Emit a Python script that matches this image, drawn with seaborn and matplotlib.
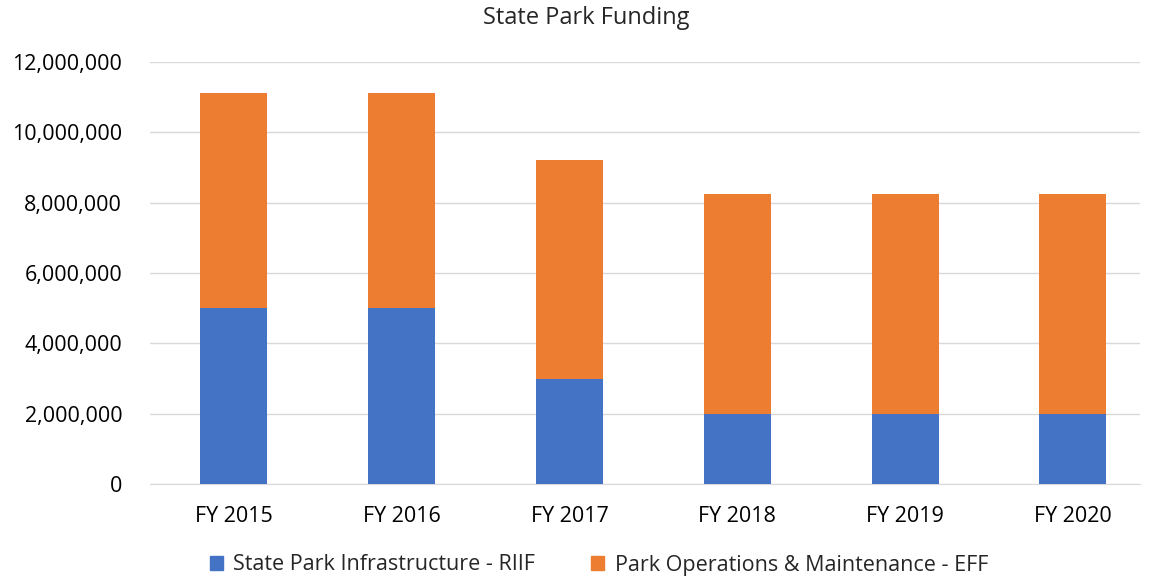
import numpy as np
import pandas as pd
import seaborn as sns
import matplotlib.pyplot as plt
from matplotlib.ticker import FuncFormatter
from matplotlib.patches import Patch

years = ["FY 2015", "FY 2016", "FY 2017", "FY 2018", "FY 2019", "FY 2020"]
infrastructure = [5000000, 5000000, 3000000, 2000000, 2000000, 2000000]
operations = [6120000, 6120000, 6210000, 6250000, 6250000, 6250000]

blue = "#4472C4"
orange = "#ED7D31"

df = pd.DataFrame({"Year": years, "RIIF": infrastructure, "EFF": operations})
df["Total"] = df["RIIF"] + df["EFF"]

sns.set_style("white")
plt.rcParams["font.family"] = ["Open Sans", "DejaVu Sans"]

fig = plt.figure(figsize=(11.5, 5.78), dpi=100)
ax = fig.add_axes([150 / 1150, 1 - 484 / 578, 990 / 1150, 422 / 578])

# stacked: total in orange first, blue base drawn over it
sns.barplot(data=df, x="Year", y="Total", color=orange, width=0.4, saturation=1,
            linewidth=0, ax=ax, zorder=3)
sns.barplot(data=df, x="Year", y="RIIF", color=blue, width=0.4, saturation=1,
            linewidth=0, ax=ax, zorder=3)

ax.set_ylim(0, 12000000)
ax.set_yticks(np.arange(0, 12000001, 2000000))
ax.set_xlim(-0.5, 5.4)
ax.yaxis.set_major_formatter(FuncFormatter(lambda v, p: f"{int(v):,}"))
ax.grid(axis="y", color="#D9D9D9", linewidth=1, zorder=0)
ax.set_axisbelow(True)
for s in ["top", "right", "left"]:
    ax.spines[s].set_visible(False)
ax.spines["bottom"].set_color("#D9D9D9")
ax.tick_params(axis="both", length=0, labelsize=15.5, colors="#000000")
ax.tick_params(axis="y", pad=20)
ax.tick_params(axis="x", pad=16)
ax.set_xlabel("")
ax.set_ylabel("")

fig.text(586 / 1150, 1 - 18 / 578, "State Park Funding", ha="center", va="center", fontsize=17)

handles = [Patch(color=blue, label="State Park Infrastructure - RIIF"),
           Patch(color=orange, label="Park Operations & Maintenance - EFF")]
fig.legend(handles=handles, loc="center", bbox_to_anchor=(599 / 1150, 1 - 565 / 578), ncol=2,
           frameon=False, fontsize=15.5, handlelength=0.6, handleheight=0.6, columnspacing=2.6,
           handletextpad=0.5)

fig.savefig("out.png", dpi=100)
